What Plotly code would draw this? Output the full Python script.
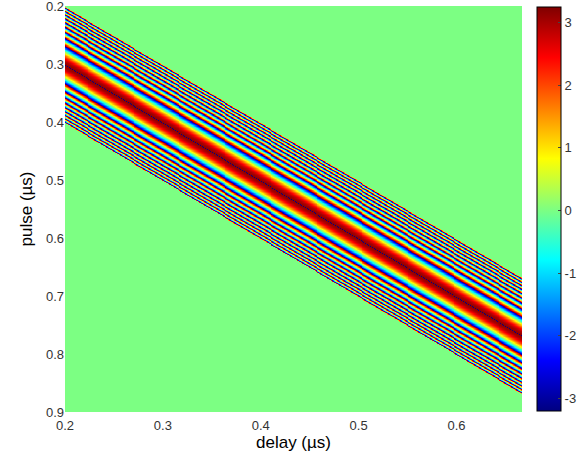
import numpy as np
import plotly.graph_objects as go

# --- values ---
delay_range = [0.2, 0.667]          # µs (x axis)
pulse_range = [0.2, 0.9]            # µs (y axis, reversed)
delay_ticks = [0.2, 0.3, 0.4, 0.5, 0.6]
pulse_ticks = [0.2, 0.3, 0.4, 0.5, 0.6, 0.7, 0.8, 0.9]
cbar_ticks = [-3, -2, -1, 0, 1, 2, 3]
z_limits = [-3.2, 3.25]

band_center_offset = 0.102  # pulse - delay at band centre (dark red)
band_half_width = 0.1       # band spans offset ~0 .. 0.2
first_wrap_offset = 0.0328  # distance from centre to first blue stripe

step = 0.001
delay = np.round(np.arange(delay_range[0], delay_range[1] + step / 2, step), 4)
pulse = np.round(np.arange(pulse_range[0], pulse_range[1] + step / 2, step), 4)

D, P = np.meshgrid(delay, pulse)
d = (P - D) - band_center_offset
chirp = 2 * np.pi / first_wrap_offset ** 2
phase = np.pi - chirp * d ** 2
phase = (phase + np.pi) % (2 * np.pi) - np.pi
z = np.where(np.abs(d) <= band_half_width, phase, 0.0)
z = np.round(z, 2)

jet = [
    [0.0, "rgb(0,0,128)"],
    [0.125, "rgb(0,0,255)"],
    [0.375, "rgb(0,255,255)"],
    [0.625, "rgb(255,255,0)"],
    [0.875, "rgb(255,0,0)"],
    [1.0, "rgb(128,0,0)"],
]

fig = go.Figure(
    go.Heatmap(
        x=delay,
        y=pulse,
        z=z,
        colorscale=jet,
        zmin=z_limits[0],
        zmax=z_limits[1],
        zsmooth="best",
        colorbar=dict(
            x=1.033,
            xanchor="left",
            xpad=0,
            y=0.5,
            yanchor="middle",
            len=0.995,
            ypad=0,
            thickness=24,
            outlinewidth=1,
            outlinecolor="black",
            tickvals=cbar_ticks,
            ticktext=[str(v) for v in cbar_ticks],
            ticks="inside",
            ticklen=3,
            tickcolor="#444",
            tickfont=dict(family="Liberation Sans", size=13, color="#333"),
        ),
    )
)

fig.update_layout(
    width=585,
    height=466,
    margin=dict(l=65, r=63, t=6, b=54, autoexpand=False),
    paper_bgcolor="white",
    plot_bgcolor="white",
    font=dict(family="Liberation Sans", color="black"),
    xaxis=dict(
        range=delay_range,
        tickvals=delay_ticks,
        ticktext=[f"{v:.1f}" for v in delay_ticks],
        showgrid=False,
        zeroline=False,
        ticks="",
        automargin=False,
        ticklabelstandoff=4,
        ticklabeloverflow="allow",
        tickfont=dict(size=13, color="#333"),
        title=dict(text="delay (µs)", font=dict(size=17), standoff=4),
    ),
    yaxis=dict(
        range=[pulse_range[1], pulse_range[0]],
        tickvals=pulse_ticks,
        ticktext=[f"{v:.1f}" for v in pulse_ticks],
        showgrid=False,
        zeroline=False,
        ticks="",
        automargin=False,
        ticklabeloverflow="allow",
        tickfont=dict(size=13, color="#333"),
        title=dict(text="pulse (µs)", font=dict(size=17), standoff=8),
    ),
)

fig.write_html(
    "out.html",
    config={"displayModeBar": False},
    post_script="document.body.style.margin='0';document.body.style.overflow='hidden';",
)
